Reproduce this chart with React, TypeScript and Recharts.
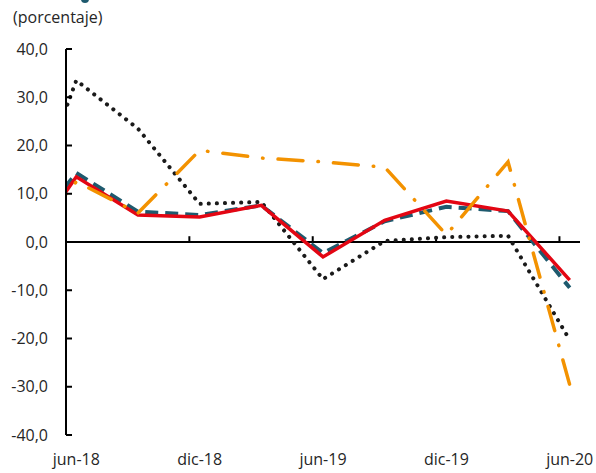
import React from 'react';
import { LineChart, Line, XAxis, YAxis, ReferenceLine } from 'recharts';

// quarter positions in months relative to jun-18 (mar-18 lies before the visible range)
const monthIndex = [-3, 0, 3, 6, 9, 12, 15, 18, 21, 24];
const redSeries = [-5.0, 13.5, 5.6, 5.2, 7.6, -3.1, 4.5, 8.5, 6.4, -7.9];
const tealSeries = [-2.0, 14.3, 6.3, 5.6, 7.6, -2.3, 4.3, 7.3, 6.4, -9.5];
const orangeSeries = [-3.0, 12.5, 6.0, 19.0, 17.4, 16.6, 15.5, 1.5, 16.6, -29.6];
const blackSeries = [-1.5, 33.5, 23.5, 7.9, 8.3, -7.7, 0.2, 1.0, 1.3, -20.3];

const xTickValues = [0, 6, 12, 18, 24];
const xTickLabels = ['jun-18', 'dic-18', 'jun-19', 'dic-19', 'jun-20'];
const xMinorTicks = [5.5, 11.5, 17.5, 23.5];
const yTicks = [-40, -30, -20, -10, 0, 10, 20, 30, 40];

const data = monthIndex.map((m, i) => ({
  m,
  red: redSeries[i],
  teal: tealSeries[i],
  orange: orangeSeries[i],
  black: blackSeries[i],
}));

const FONT = "'Open Sans', sans-serif";
const TXT = '#262626';

export default function App() {
  return (
    <div style={{ position: 'absolute', left: 0, top: 0, width: 596, height: 473, background: '#fff', overflow: 'hidden' }}>
      <div style={{ position: 'absolute', left: 81, top: -5, width: 8, height: 8, borderRadius: 4, background: '#1e5a6e' }} />
      <div style={{ position: 'absolute', left: 13, top: 6, fontFamily: FONT, fontSize: 16, color: TXT, whiteSpace: 'nowrap' }}>
        (porcentaje)
      </div>
      <LineChart
        width={596}
        height={473}
        data={data}
        margin={{ top: 49, right: 16, left: 0, bottom: 8 }}
      >
        <XAxis
          dataKey="m"
          type="number"
          domain={[-0.5, 24.5]}
          allowDataOverflow
          ticks={xTickValues}
          tickFormatter={(v: number) => xTickLabels[xTickValues.indexOf(v)] ?? ''}
          axisLine={false}
          tickLine={false}
          tickSize={0}
          tickMargin={19}
          height={30}
          interval={0}
          tick={{ fill: TXT, fontSize: 16, fontFamily: FONT }}
        />
        <YAxis
          type="number"
          domain={[-40, 40]}
          ticks={yTicks}
          interval={0}
          width={66}
          allowDataOverflow
          tickFormatter={(v: number) => v.toFixed(1).replace('.', ',')}
          axisLine={{ stroke: '#000', strokeWidth: 2 }}
          tickLine={{ stroke: '#000', strokeWidth: 2 }}
          tickSize={-6}
          tickMargin={24}
          tick={{ fill: TXT, fontSize: 16, fontFamily: FONT }}
        />
        <ReferenceLine y={0} stroke="#000" strokeWidth={2} />
        {xMinorTicks.map((x) => (
          <ReferenceLine
            key={x}
            segment={[{ x, y: 0 }, { x, y: 1.2 }]}
            stroke="#000"
            strokeWidth={2}
          />
        ))}
        <Line
          dataKey="black"
          stroke="#1a1a1a"
          strokeWidth={4}
          strokeDasharray="0.1 8"
          strokeLinecap="round"
          dot={false}
          isAnimationActive={false}
        />
        <Line
          dataKey="teal"
          stroke="#1e5a6e"
          strokeWidth={4}
          strokeDasharray="13 7"
          dot={false}
          isAnimationActive={false}
        />
        <Line
          dataKey="red"
          stroke="#e30613"
          strokeWidth={3.5}
          dot={false}
          isAnimationActive={false}
        />
        <Line
          dataKey="orange"
          stroke="#f39200"
          strokeWidth={3.5}
          strokeDasharray="25 15 0.5 15"
          strokeLinecap="round"
          dot={false}
          isAnimationActive={false}
        />
      </LineChart>
    </div>
  );
}
